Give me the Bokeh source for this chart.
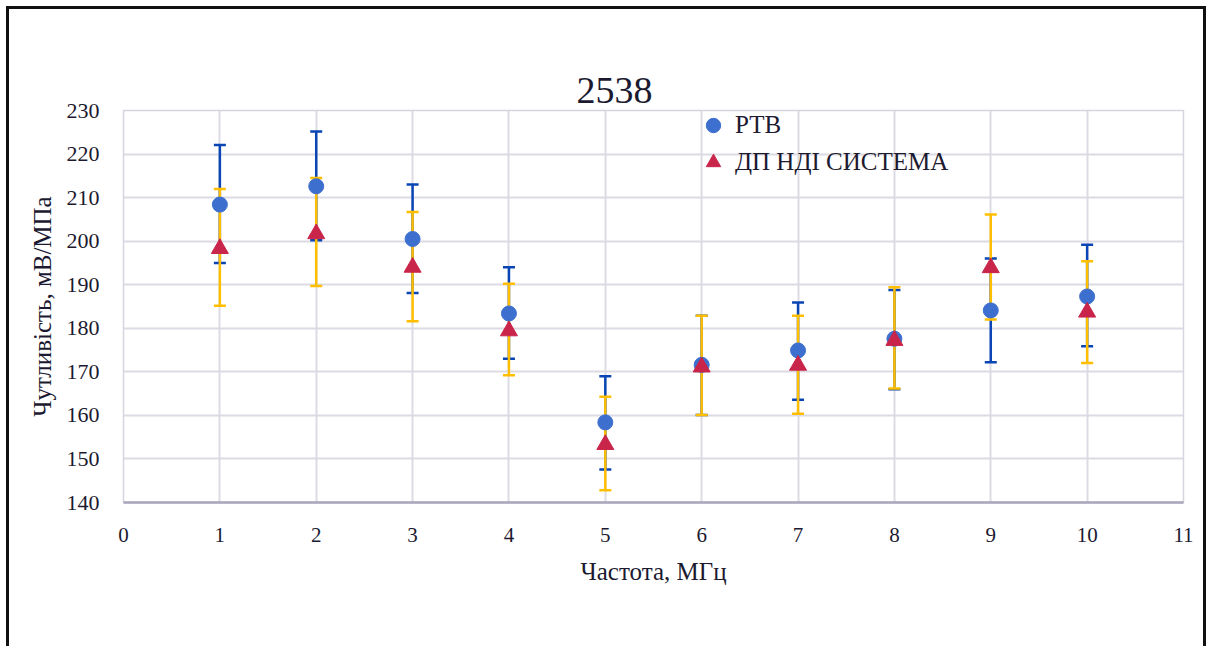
from bokeh.plotting import figure
from bokeh.models import ColumnDataSource, Whisker, TeeHead, FixedTicker, Legend, LegendItem, Range1d
from bokeh.embed import file_html
from bokeh.resources import INLINE

# ---- data ----
freq = [1, 2, 3, 4, 5, 6, 7, 8, 9, 10]
rtb_val = [208.4, 212.6, 200.5, 183.4, 158.4, 171.6, 174.9, 177.6, 184.1, 187.3]
rtb_up = [13.7, 12.6, 12.5, 10.6, 10.6, 11.3, 11.0, 11.2, 11.9, 11.9]
rtb_dn = [13.4, 12.4, 12.4, 10.4, 10.8, 11.5, 11.3, 11.6, 11.9, 11.4]
sys_val = [198.3, 201.7, 194.0, 179.4, 153.3, 171.1, 171.5, 177.2, 193.9, 183.7]
sys_up = [13.7, 12.8, 12.7, 10.8, 11.0, 11.8, 11.4, 12.2, 12.2, 11.7]
sys_dn = [13.1, 12.0, 12.4, 10.2, 10.5, 11.0, 11.1, 11.0, 11.9, 11.7]
x_ticks = list(range(0, 12))
y_ticks = list(range(140, 231, 10))
title_text = "2538"
x_title = "Частота, МГц"
y_title = "Чутливість, мВ/МПа"
names = ["РТВ", "ДП НДІ СИСТЕМА"]

FONT = "Liberation Serif"
TXT = "#1c1a30"

rtb_src = ColumnDataSource(dict(
    x=freq, y=rtb_val,
    upper=[v + u for v, u in zip(rtb_val, rtb_up)],
    lower=[v - d for v, d in zip(rtb_val, rtb_dn)]))
sys_src = ColumnDataSource(dict(
    x=freq, y=sys_val,
    upper=[v + u for v, u in zip(sys_val, sys_up)],
    lower=[v - d for v, d in zip(sys_val, sys_dn)]))

p = figure(width=1200, height=640, output_backend="svg", toolbar_location=None,
           x_range=Range1d(0, 11), y_range=Range1d(140, 230),
           min_border_left=114, min_border_right=26, min_border_top=101, min_border_bottom=147,
           styles={"border-left": "3px solid #111", "border-top": "3px solid #111",
                   "border-right": "3px solid #111", "margin-left": "6px", "margin-top": "6px"})

p.title.text = title_text
p.title.text_font = FONT
p.title.text_font_size = "38px"
p.title.text_font_style = "normal"
p.title.text_color = TXT
p.title.align = "left"
p.title.offset = 453
p.title.standoff = 16

p.outline_line_color = "#d6d4de"
p.outline_line_width = 1.5

for ax in (p.xaxis[0], p.yaxis[0]):
    ax.major_tick_line_color = None
    ax.minor_tick_line_color = None
    ax.major_label_text_font = FONT
    ax.major_label_text_color = TXT
    ax.axis_label_text_font = FONT
    ax.axis_label_text_font_size = "25px"
    ax.axis_label_text_font_style = "normal"
    ax.axis_label_text_color = TXT

p.xaxis.major_label_text_font_size = "21px"
p.yaxis.major_label_text_font_size = "22px"
p.xaxis.ticker = FixedTicker(ticks=x_ticks)
p.yaxis.ticker = FixedTicker(ticks=y_ticks)
p.xaxis.axis_label = x_title
p.yaxis.axis_label = y_title
p.xaxis.axis_line_color = "#a9a5bb"
p.xaxis.axis_line_width = 2.5
p.yaxis.axis_line_color = None
p.xaxis.major_label_standoff = 19
p.yaxis.major_label_standoff = 18
p.xaxis.axis_label_standoff = 13
p.yaxis.axis_label_standoff = 8

p.xgrid.grid_line_color = "#dcdae2"
p.ygrid.grid_line_color = "#dcdae2"
p.xgrid.grid_line_width = 2
p.ygrid.grid_line_width = 2

blue_err = "#0a45b5"
yellow_err = "#ffbf00"
w1 = Whisker(base="x", upper="upper", lower="lower", source=rtb_src,
             line_color=blue_err, line_width=2.5,
             upper_head=TeeHead(size=12, line_color=blue_err, line_width=2.5),
             lower_head=TeeHead(size=12, line_color=blue_err, line_width=2.5))
w2 = Whisker(base="x", upper="upper", lower="lower", source=sys_src,
             line_color=yellow_err, line_width=2.5,
             upper_head=TeeHead(size=12, line_color=yellow_err, line_width=2.5),
             lower_head=TeeHead(size=12, line_color=yellow_err, line_width=2.5))
p.add_layout(w1)
p.add_layout(w2)

r1 = p.scatter("x", "y", source=rtb_src, marker="circle", size=15,
               fill_color="#3d6fcf", line_color="#3d6fcf")
r2 = p.scatter("x", "y", source=sys_src, marker="triangle", size=17,
               fill_color="#c9244a", line_color="#c9244a")

legend = Legend(items=[LegendItem(label=names[0], renderers=[r1]),
                       LegendItem(label=names[1], renderers=[r2])],
                location=(572, 322), orientation="vertical",
                label_text_font=FONT, label_text_font_size="25px", label_text_color=TXT,
                glyph_width=36, glyph_height=36, label_height=36, spacing=1,
                label_standoff=4, padding=0, margin=0,
                border_line_color=None, background_fill_alpha=0)
p.add_layout(legend, "center")

open("out.html", "w").write(file_html(p, INLINE))
